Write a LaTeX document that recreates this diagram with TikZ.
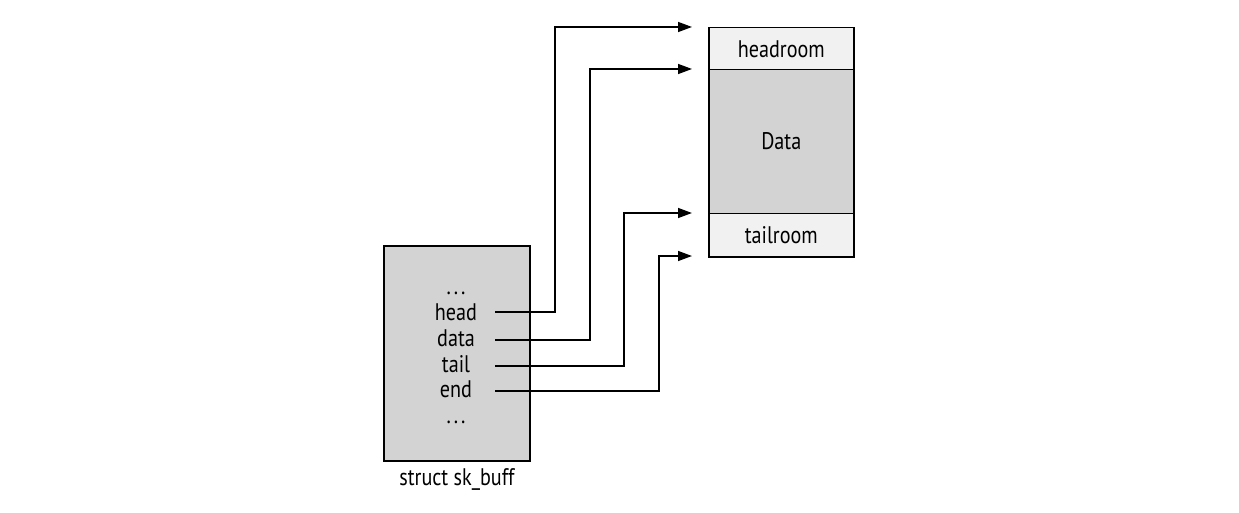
\documentclass[tikz,border=0pt]{standalone}
\usepackage{fontspec}
\setmainfont{PT Sans}[FakeStretch=0.84]
\usetikzlibrary{arrows.meta}
\definecolor{boxgray}{HTML}{D3D3D3}
\definecolor{lightgray2}{HTML}{F1F1F1}
\newcommand{\mydots}{.\kern3pt.\kern3pt.}
\begin{document}
\begin{tikzpicture}[x=1pt,y=-1pt,
  lbl/.style={font=\fontsize{24}{28}\selectfont, inner sep=0pt},
  conn/.style={line width=1.5pt, -{Triangle[length=14pt,width=10pt]}},
  part/.style={draw, line width=1.5pt}]
\useasboundingbox (0,0) rectangle (1239,513);
% struct box
\node[part, fill=boxgray, minimum width=146pt, minimum height=215pt, anchor=north west, inner sep=0pt] (sk) at (383,245) {};
\node[lbl] (dots1) at (456,293) {\mydots};
\node[lbl] (fhead) at (456,312) {head};
\node[lbl] (fdata) at (456,338) {data};
\node[lbl] (ftail) at (456,364) {tail};
\node[lbl] (fend) at (456,389) {end};
\node[lbl] (dots2) at (456,422) {\mydots};
\node[lbl] (sklabel) at (457,479) {struct sk\_buff};
% buffer
\node[part, fill=lightgray2, minimum width=145pt, minimum height=42pt, anchor=north west, inner sep=0pt] (headroom) at (708,27) {};
\node[part, fill=boxgray, minimum width=145pt, minimum height=144pt, anchor=north west, inner sep=0pt] (datab) at (708,69) {};
\node[part, fill=lightgray2, minimum width=145pt, minimum height=43pt, anchor=north west, inner sep=0pt] (tailroom) at (708,213) {};
\node[lbl] (thead) at (headroom.center) {headroom};
\node[lbl] (tdata) at ([yshift=1pt]datab.center) {Data};
\node[lbl] (ttail) at (tailroom.center) {tailroom};
% connector endpoints
\coordinate (shead) at (495,312);
\coordinate (sdata) at (495,340);
\coordinate (stail) at (495,366);
\coordinate (send) at (495,391);
\coordinate (ehead) at (692,27);
\coordinate (edata) at (692,69);
\coordinate (etail) at (692,213);
\coordinate (eend) at (692,256);
\draw[conn] (shead) -- (555,312) -- (555,27) -- (ehead);
\draw[conn] (sdata) -- (590,340) -- (590,69) -- (edata);
\draw[conn] (stail) -- (624,366) -- (624,213) -- (etail);
\draw[conn] (send) -- (659,391) -- (659,256) -- (eend);
\end{tikzpicture}
\end{document}
